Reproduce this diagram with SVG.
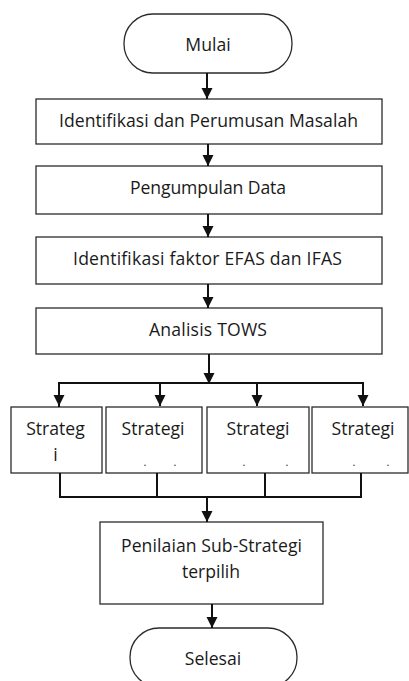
<svg xmlns="http://www.w3.org/2000/svg" width="409" height="681" viewBox="0 0 409 681">
  <style>
    .box { fill: #ffffff; stroke: #2b2b2b; stroke-width: 1.3; }
    .lbl { font-family: "Open Sans", "Noto Sans", sans-serif; font-size: 17.6px; fill: #1a1a1a; text-anchor: middle; }
    .dot { font-family: "Open Sans", "Noto Sans", sans-serif; font-size: 11px; fill: #1a1a1a; text-anchor: middle; }
    .wire { fill: none; stroke: #111111; stroke-width: 2; }
    .arrow { fill: none; stroke: #111111; stroke-width: 2; marker-end: url(#head); }
  </style>
  <defs>
    <marker id="head" markerUnits="userSpaceOnUse" markerWidth="12" markerHeight="12" viewBox="0 0 12 12" refX="11" refY="6" orient="auto">
      <path d="M0,0.5 L11,6 L0,11.5 Z" fill="#111111"/>
    </marker>
  </defs>
  <rect width="409" height="681" fill="#ffffff"/>

  <g id="mulai">
    <rect class="box" x="124" y="14" width="168" height="59" rx="29" ry="29"/>
    <text class="lbl" x="208" y="51">Mulai</text>
  </g>

  <g id="identifikasi-masalah">
    <rect class="box" x="36" y="99" width="346" height="45"/>
    <text class="lbl" x="208.5" y="127" textLength="299" lengthAdjust="spacing">Identifikasi dan Perumusan Masalah</text>
  </g>

  <g id="pengumpulan-data">
    <rect class="box" x="36" y="166" width="346" height="48"/>
    <text class="lbl" x="208" y="194" textLength="156" lengthAdjust="spacing">Pengumpulan Data</text>
  </g>

  <g id="faktor-efas-ifas">
    <rect class="box" x="36" y="237" width="346" height="47"/>
    <text class="lbl" x="207.5" y="265" textLength="269" lengthAdjust="spacing">Identifikasi faktor EFAS dan IFAS</text>
  </g>

  <g id="analisis-tows">
    <rect class="box" x="36" y="308" width="346" height="46"/>
    <text class="lbl" x="208" y="336" textLength="118" lengthAdjust="spacing">Analisis TOWS</text>
  </g>

  <g id="strategi-1">
    <rect class="box" x="11" y="407" width="91" height="66"/>
    <text class="lbl" x="55.5" y="435">Strateg</text>
    <text class="lbl" x="55.5" y="461">i</text>
  </g>

  <g id="strategi-2">
    <rect class="box" x="106" y="407" width="96" height="66"/>
    <text class="lbl" x="153" y="435">Strategi</text>
    <text class="dot"><tspan x="145" y="466">.</tspan><tspan x="175" y="466">.</tspan></text>
  </g>

  <g id="strategi-3">
    <rect class="box" x="207" y="407" width="102" height="66"/>
    <text class="lbl" x="258" y="435">Strategi</text>
    <text class="dot"><tspan x="244" y="466">.</tspan><tspan x="287" y="466">.</tspan></text>
  </g>

  <g id="strategi-4">
    <rect class="box" x="312" y="407" width="96" height="66"/>
    <text class="lbl" x="363" y="435">Strategi</text>
    <text class="dot"><tspan x="354" y="466">.</tspan><tspan x="388" y="466">.</tspan></text>
  </g>

  <g id="penilaian">
    <rect class="box" x="100" y="522" width="223" height="82"/>
    <text class="lbl" x="211.5" y="552" textLength="181" lengthAdjust="spacing">Penilaian Sub-Strategi</text>
    <text class="lbl" x="211" y="578">terpilih</text>
  </g>

  <g id="selesai">
    <rect class="box" x="130" y="628" width="167" height="59" rx="29" ry="29"/>
    <text class="lbl" x="213" y="665">Selesai</text>
  </g>

  <g id="connectors">
    <line class="arrow" x1="207" y1="73" x2="207" y2="99"/>
    <line class="arrow" x1="208" y1="144" x2="208" y2="166"/>
    <line class="arrow" x1="208" y1="214" x2="208" y2="237"/>
    <line class="arrow" x1="208" y1="284" x2="208" y2="308"/>
    <line class="arrow" x1="209" y1="354" x2="209" y2="384"/>
    <!-- split bus to the four strategies -->
    <polyline class="wire" points="59,407 59,383 363,383"/>
    <line class="arrow" x1="59" y1="383" x2="59" y2="406"/>
    <line class="arrow" x1="160" y1="383" x2="160" y2="406"/>
    <line class="arrow" x1="257" y1="383" x2="257" y2="406"/>
    <line class="arrow" x1="363" y1="382" x2="363" y2="406"/>
    <!-- merge bus from the four strategies -->
    <polyline class="wire" points="60,473 60,497 361,497"/>
    <line class="wire" x1="157" y1="473" x2="157" y2="497"/>
    <line class="wire" x1="265" y1="473" x2="265" y2="497"/>
    <line class="wire" x1="361" y1="473" x2="361" y2="498"/>
    <line class="arrow" x1="207" y1="497" x2="207" y2="522"/>
    <line class="arrow" x1="212" y1="604" x2="212" y2="628"/>
  </g>
</svg>
